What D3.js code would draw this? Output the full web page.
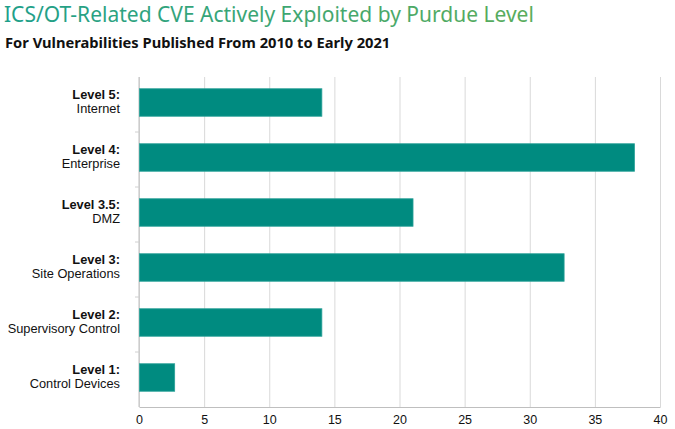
<!DOCTYPE html>
<html lang="en">
<head>
<meta charset="UTF-8">
<title>ICS/OT-Related CVE Actively Exploited by Purdue Level</title>
<script src="https://d3js.org/d3.v7.min.js"></script>
<style>
    body { margin: 0; background: #fff; font-family: "Noto Sans", sans-serif; }
    .grid line { stroke: #d9d9d9; stroke-width: 1px; }
    .grid path { display: none; }
    .tick text { font-size: 12.5px; fill: #111; }
</style>
</head>
<body>
<div id="chart"></div>
<script>
// data
const levels = ["Level 5:", "Level 4:", "Level 3.5:", "Level 3:", "Level 2:", "Level 1:"];
const names = ["Internet", "Enterprise", "DMZ", "Site Operations", "Supervisory Control", "Control Devices"];
const values = [14, 38, 21, 32.6, 14, 2.7];
const xTicks = [0, 5, 10, 15, 20, 25, 30, 35, 40];

const W = 675, H = 429;
const margin = {top: 77, right: 15, bottom: 22, left: 139};
const width = W - margin.left - margin.right,
      height = H - margin.top - margin.bottom;

const svg = d3.select("#chart").append("svg")
    .attr("width", W).attr("height", H);

// title gradient teal -> green
const grad = svg.append("defs").append("linearGradient")
    .attr("id", "tgrad").attr("x1", "0%").attr("x2", "100%");
grad.append("stop").attr("offset", "0%").attr("stop-color", "#1f9f8a");
grad.append("stop").attr("offset", "100%").attr("stop-color", "#5aac5c");

svg.append("text")
    .attr("x", 4).attr("y", 22)
    .attr("font-size", 21)
    .attr("fill", "url(#tgrad)")
    .text("ICS/OT-Related CVE Actively Exploited by Purdue Level");

svg.append("text")
    .attr("x", 5).attr("y", 48)
    .attr("font-size", 14.7).attr("font-weight", "bold").attr("fill", "#111")
    .text("For Vulnerabilities Published From 2010 to Early 2021");

const g = svg.append("g").attr("transform", `translate(${margin.left},${margin.top})`);

const x = d3.scaleLinear().domain([0, 40]).range([0, width]);
const y = d3.scaleBand().domain(levels).range([0, height]).paddingInner(0.5).paddingOuter(0.25);
const band = d3.scaleBand().domain(levels).range([0, height]);

// vertical gridlines
g.append("g").attr("class", "grid")
    .call(d3.axisBottom(x).tickValues(xTicks).tickSize(height).tickFormat(""));

// bottom axis
const xa = g.append("g")
    .attr("transform", `translate(0,${height})`)
    .call(d3.axisBottom(x).tickValues(xTicks).tickSize(0).tickPadding(8));
xa.select(".domain").attr("stroke", "#bfbfbf");

// left axis line with ticks between categories
g.append("line").attr("x1", 0).attr("x2", 0).attr("y1", 0).attr("y2", height)
    .attr("stroke", "#bfbfbf");
g.selectAll(".sep").data(levels.slice(1)).join("line")
    .attr("x1", -4).attr("x2", 0)
    .attr("y1", d => band(d)).attr("y2", d => band(d))
    .attr("stroke", "#d0d0d0");

// bars
g.selectAll(".bar").data(values).join("rect")
    .attr("x", x(0) + 0.5)
    .attr("y", (d, i) => y(levels[i]) - 2)
    .attr("width", d => x(d) - x(0))
    .attr("height", y.bandwidth())
    .attr("fill", "#008b80")
    .attr("stroke", "#2aa198").attr("stroke-width", 0.8);

// category labels: bold level on top, name below
const ly = d => band(d) + band.bandwidth() / 2 - 6;
g.selectAll(".lab1").data(levels).join("text")
    .attr("text-anchor", "end").attr("x", -19).attr("y", ly)
    .attr("font-family", "Liberation Sans, sans-serif")
    .attr("font-size", 12.8).attr("font-weight", "bold").attr("fill", "#111")
    .text(d => d);
g.selectAll(".lab2").data(levels).join("text")
    .attr("text-anchor", "end").attr("x", -19).attr("y", d => ly(d) + 14.5)
    .attr("font-family", "Liberation Sans, sans-serif")
    .attr("font-size", 12.8).attr("fill", "#111")
    .text((d, i) => names[i]);
</script>
</body>
</html>
